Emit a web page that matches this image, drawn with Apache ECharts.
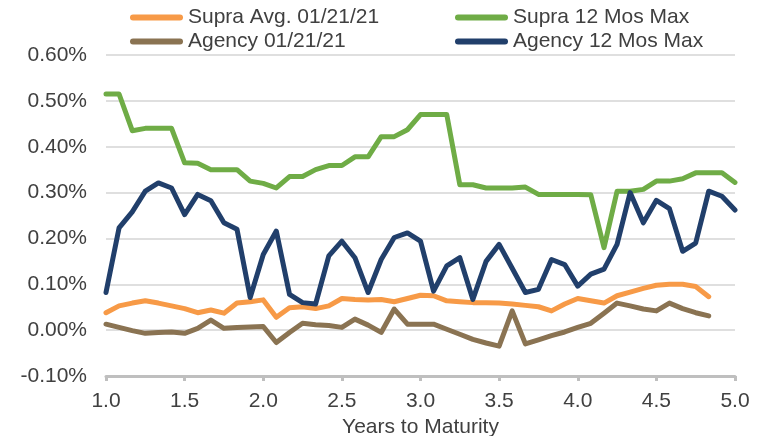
<!DOCTYPE html>
<html>
<head>
<meta charset="utf-8">
<script src="https://cdn.jsdelivr.net/npm/echarts@6/dist/echarts.min.js"></script>
<style>
  html, body { margin: 0; padding: 0; background: #fff; }
  #chart { width: 769px; height: 436px; }
</style>
</head>
<body>
<div id="chart"></div>
<script>
// years to maturity, monthly steps
const years = [1.000, 1.083, 1.167, 1.250, 1.333, 1.417, 1.500, 1.583, 1.667, 1.750, 1.833, 1.917,
  2.000, 2.083, 2.167, 2.250, 2.333, 2.417, 2.500, 2.583, 2.667, 2.750, 2.833, 2.917,
  3.000, 3.083, 3.167, 3.250, 3.333, 3.417, 3.500, 3.583, 3.667, 3.750, 3.833, 3.917,
  4.000, 4.083, 4.167, 4.250, 4.333, 4.417, 4.500, 4.583, 4.667, 4.750, 4.833, 4.917, 5.000]

// values in percent
const supraAvg = [0.038, 0.053, 0.059, 0.064, 0.059, 0.053, 0.047, 0.038, 0.044, 0.037, 0.059, 0.062,
  0.066, 0.028, 0.049, 0.051, 0.047, 0.053, 0.069, 0.067, 0.066, 0.067, 0.062, 0.069,
  0.076, 0.075, 0.064, 0.062, 0.060, 0.060, 0.059, 0.057, 0.054, 0.051, 0.042, 0.057,
  0.069, 0.064, 0.059, 0.075, 0.083, 0.091, 0.098, 0.100, 0.100, 0.095, 0.073]

const supraMax = [0.515, 0.515, 0.435, 0.440, 0.440, 0.440, 0.365, 0.364, 0.350, 0.350, 0.350, 0.325,
  0.320, 0.310, 0.335, 0.335, 0.350, 0.359, 0.359, 0.378, 0.378, 0.422, 0.422, 0.437,
  0.470, 0.470, 0.470, 0.317, 0.317, 0.310, 0.310, 0.310, 0.312, 0.296, 0.296, 0.296,
  0.296, 0.295, 0.180, 0.303, 0.303, 0.307, 0.325, 0.325, 0.330, 0.343, 0.343, 0.343, 0.322]

const agencyNow = [0.013, 0.006, -0.001, -0.007, -0.005, -0.004, -0.007, 0.004, 0.022, 0.004, 0.006, 0.007,
  0.008, -0.027, -0.005, 0.015, 0.012, 0.010, 0.006, 0.024, 0.011, -0.005, 0.046, 0.013,
  0.013, 0.013, 0.002, -0.009, -0.020, -0.028, -0.035, 0.042, -0.030, -0.021, -0.012, -0.004,
  0.006, 0.015, 0.037, 0.059, 0.053, 0.046, 0.042, 0.059, 0.047, 0.038, 0.031]

const agencyMax = [0.082, 0.223, 0.258, 0.303, 0.321, 0.310, 0.252, 0.296, 0.282, 0.234, 0.220, 0.071,
  0.165, 0.216, 0.078, 0.060, 0.057, 0.162, 0.194, 0.158, 0.082, 0.154, 0.202, 0.212,
  0.194, 0.085, 0.140, 0.158, 0.067, 0.150, 0.187, 0.135, 0.082, 0.089, 0.154, 0.143,
  0.096, 0.122, 0.133, 0.187, 0.300, 0.234, 0.283, 0.265, 0.172, 0.190, 0.303, 0.292, 0.262]

const seriesNames = ['Supra Avg. 01/21/21', 'Supra 12 Mos Max', 'Agency 01/21/21', 'Agency 12 Mos Max']
const seriesColors = ['#F79A47', '#6FAC46', '#8A7352', '#213F6B']
const seriesData = [supraAvg, supraMax, agencyNow, agencyMax]

const font = 'Liberation Sans, Arial, sans-serif'
const textColor = '#404040'
const pill = 'path://M3,0 L50,0 A3,3 0 0 1 50,6 L3,6 A3,3 0 0 1 3,0 Z'

// one legend per item so the 2x2 layout lines up
const legendPos = [
  { left: 130, top: 7 },
  { left: 455, top: 7 },
  { left: 130, top: 31 },
  { left: 455, top: 31 }
]

let chart = echarts.init(document.getElementById('chart'))
let option = {
  animation: false,
  textStyle: { fontFamily: font },
  legend: seriesNames.map((name, i) => ({
    data: [{ name: name, icon: pill }],
    left: legendPos[i].left,
    top: legendPos[i].top,
    itemWidth: 53,
    itemHeight: 6,
    padding: 0,
    selectedMode: false,
    textStyle: { fontSize: 21, color: textColor, fontFamily: font }
  })),
  grid: {
    left: 106,
    right: 34,
    top: 55,
    bottom: 60,
    outerBoundsMode: 'none'
  },
  xAxis: {
    type: 'value',
    min: 1,
    max: 5,
    interval: 0.5,
    name: 'Years to Maturity',
    nameLocation: 'middle',
    nameGap: 40,
    nameTextStyle: { fontSize: 21, color: textColor, fontFamily: font },
    axisLine: {
      onZero: false,
      lineStyle: { color: '#BFBFBF', width: 3 }
    },
    axisTick: {
      show: true,
      length: 5,
      lineStyle: { color: '#BFBFBF', width: 3 }
    },
    axisLabel: {
      fontSize: 21,
      color: textColor,
      margin: 15,
      formatter: v => v.toFixed(1)
    },
    splitLine: { show: false }
  },
  yAxis: {
    type: 'value',
    min: -0.1,
    max: 0.6,
    interval: 0.1,
    axisLine: { show: false },
    axisTick: { show: false },
    axisLabel: {
      fontSize: 21,
      color: textColor,
      margin: 19,
      formatter: v => v.toFixed(2) + '%'
    },
    splitLine: {
      lineStyle: { color: '#D4D4D4', width: 1.5 }
    }
  },
  series: seriesNames.map((name, i) => ({
    name: name,
    type: 'line',
    showSymbol: false,
    symbol: 'none',
    color: seriesColors[i],
    lineStyle: { width: 5, color: seriesColors[i], join: 'round', cap: 'round' },
    data: seriesData[i].map((v, k) => [years[k], v])
  }))
}
chart.setOption(option)
</script>
</body>
</html>
